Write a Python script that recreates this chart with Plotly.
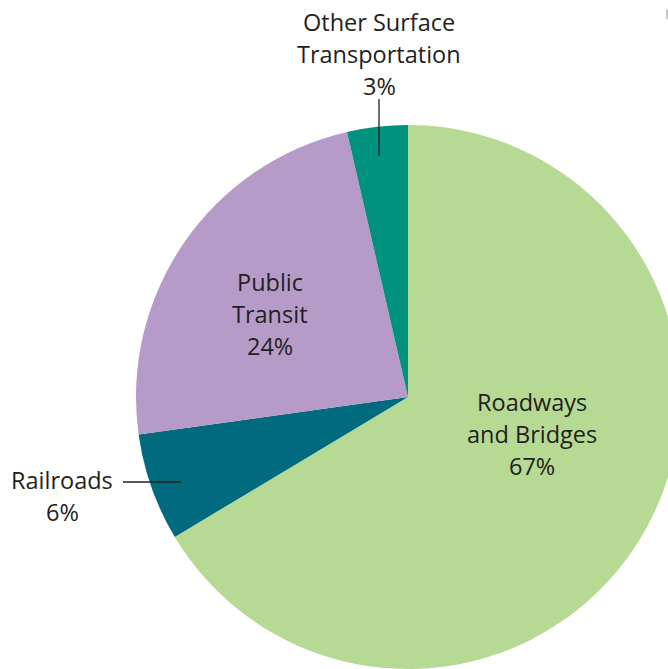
import plotly.graph_objects as go

categories = ["Roadways and Bridges", "Railroads", "Public Transit", "Other Surface Transportation"]
values = [66.4, 6.4, 23.6, 3.6]
pct_labels = ["67%", "6%", "24%", "3%"]
label_lines = [["Roadways", "and Bridges"], ["Railroads"], ["Public", "Transit"], ["Other Surface", "Transportation"]]
colors = ["#b6d993", "#006a7e", "#b69bc9", "#00917f"]

W, H = 720, 720
CX, CY, R = 408, 397, 272

def px(x):
    return x / W

def py(y):
    return 1 - y / H

fig = go.Figure(go.Pie(
    labels=categories,
    values=values,
    sort=False,
    direction="clockwise",
    rotation=0,
    marker=dict(colors=colors, line=dict(width=0)),
    textinfo="none",
    hoverinfo="label+percent",
    domain=dict(x=[px(CX - R), px(CX + R)], y=[py(CY + R), py(CY - R)]),
    showlegend=False,
))

# (x centre, y of first line centre) for each label block
label_pos = [(532, 402), (62, 480), (270, 282), (379, 22)]
line_gap = 32
font = dict(family="Open Sans, Noto Sans, sans-serif", size=23.5, color="#231f20")
for lines, pct, (x, y) in zip(label_lines, pct_labels, label_pos):
    for i, t in enumerate(lines + [pct]):
        fig.add_annotation(
            text=t,
            x=px(x), y=py(y + i * line_gap), xref="paper", yref="paper",
            xanchor="center", yanchor="middle", showarrow=False,
            font=font, align="center",
        )

# leader lines
fig.add_shape(type="line", xref="paper", yref="paper",
              x0=px(123), x1=px(181), y0=py(482), y1=py(482),
              line=dict(color="#231f20", width=1.3))
fig.add_shape(type="line", xref="paper", yref="paper",
              x0=px(379), x1=px(379), y0=py(99), y1=py(156),
              line=dict(color="#231f20", width=1.3))

fig.update_layout(
    width=W, height=H,
    margin=dict(l=0, r=0, t=0, b=0),
    paper_bgcolor="white", plot_bgcolor="white",
    autosize=False,
)

fig.write_html(
    "out.html",
    post_script="document.body.style.margin='0';document.body.style.overflow='hidden';document.documentElement.style.overflow='hidden';",
)
